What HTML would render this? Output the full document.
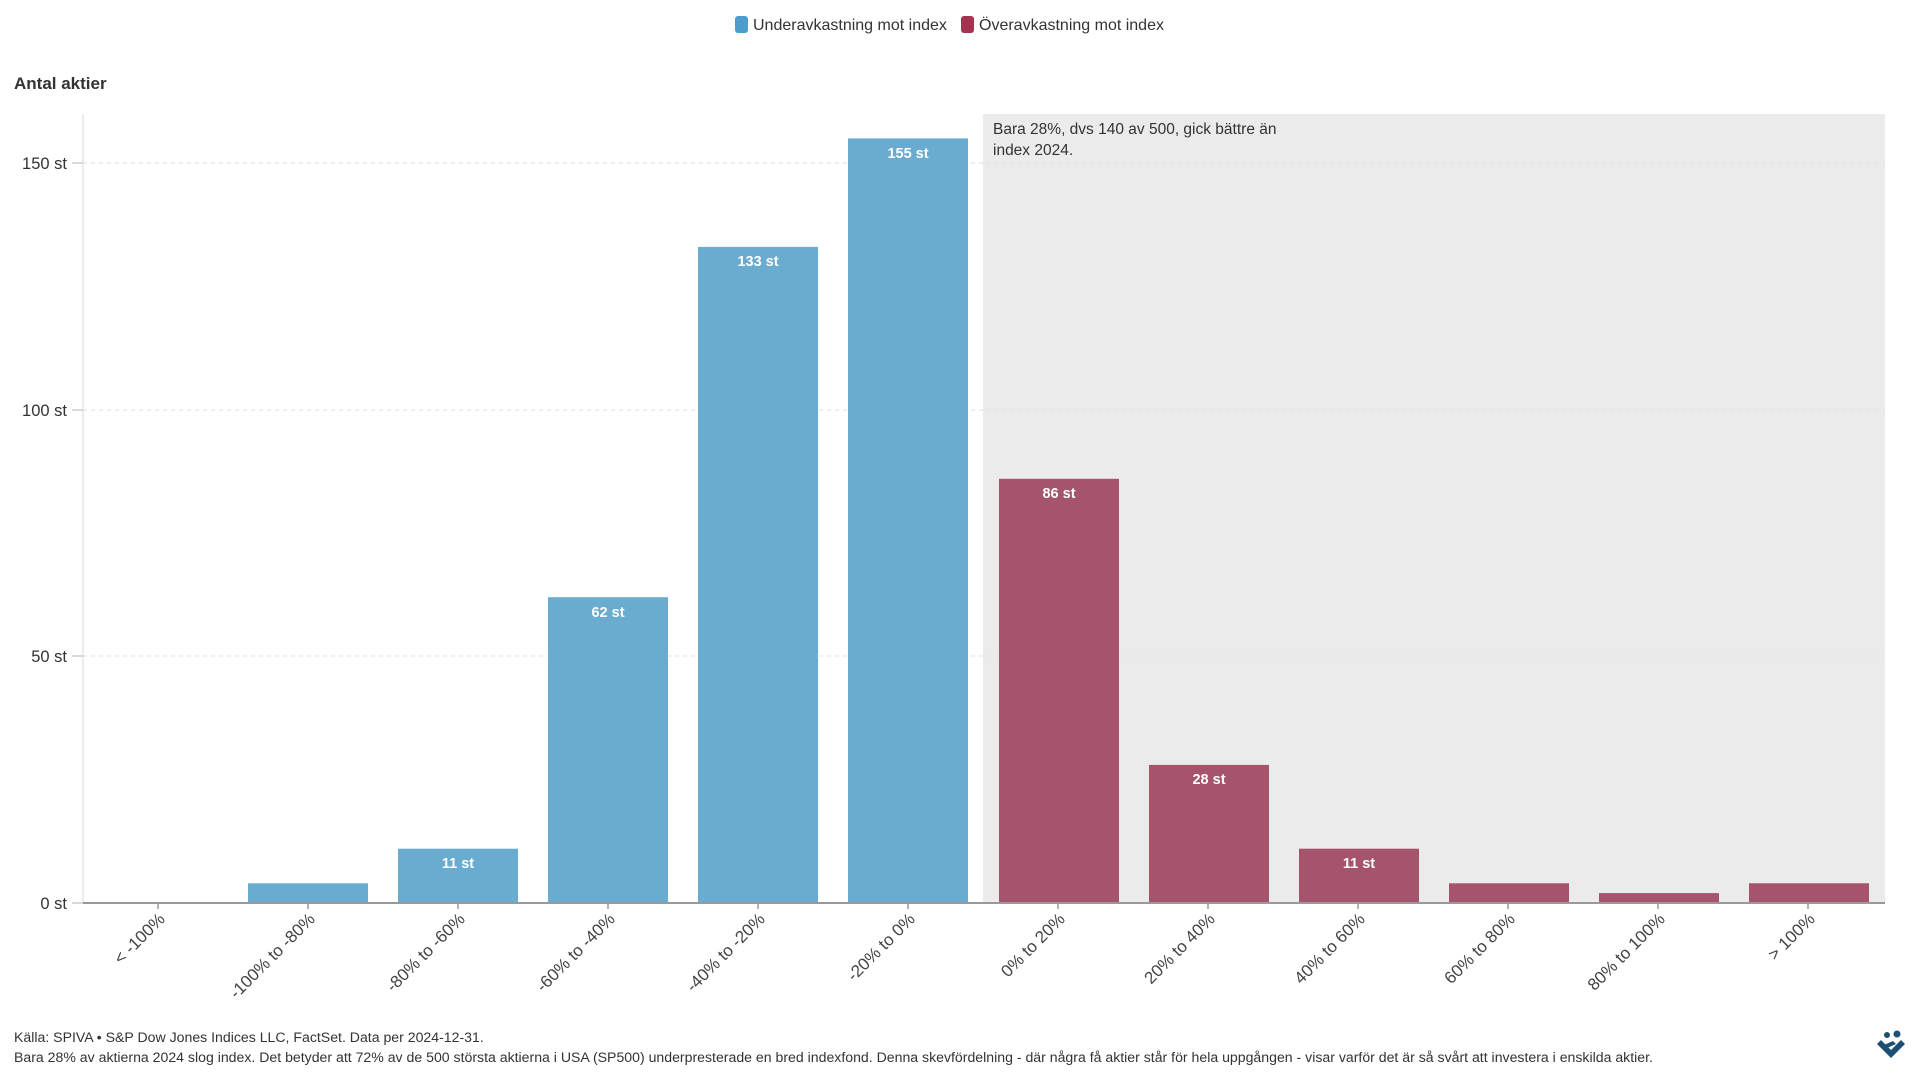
<!DOCTYPE html>
<html><head><meta charset="utf-8"><style>
html,body{margin:0;padding:0;background:#fff;}
svg{display:block;font-family:"Liberation Sans",sans-serif;}
</style></head><body>
<svg width="1920" height="1080" viewBox="0 0 1920 1080" xmlns="http://www.w3.org/2000/svg">
<rect x="735" y="16" width="13" height="17" rx="3" fill="#4d9ccb"/>
<text x="753" y="30" font-size="16" fill="#333">Underavkastning mot index</text>
<rect x="961" y="16" width="13" height="17" rx="3" fill="#a3334f"/>
<text x="979" y="30" font-size="16" fill="#333">Överavkastning mot index</text>
<text x="14" y="89" font-size="17" font-weight="bold" fill="#333">Antal aktier</text>
<rect x="983" y="114" width="902" height="789" fill="#ebebeb"/>
<text font-size="15.5" fill="#333"><tspan x="993" y="134">Bara 28%, dvs 140 av 500, gick bättre än</tspan><tspan x="993" y="155">index 2024.</tspan></text>
<line x1="83" y1="114" x2="83" y2="903" stroke="#e6e6e6" stroke-width="1.5"/>
<g stroke="#e3e3e3" stroke-dasharray="4,4" stroke-width="1.2">
<line x1="83" y1="163" x2="1885" y2="163"/>
<line x1="83" y1="410" x2="1885" y2="410"/>
<line x1="83" y1="656" x2="1885" y2="656"/>
</g>
<g font-size="16.5" fill="#333" text-anchor="end">
<text x="67" y="169">150 st</text>
<text x="67" y="416">100 st</text>
<text x="67" y="662">50 st</text>
<text x="67" y="909">0 st</text>
</g>
<g stroke="#ccc" stroke-width="1.5">
<line x1="72" y1="163" x2="83" y2="163"/><line x1="72" y1="410" x2="83" y2="410"/><line x1="72" y1="656" x2="83" y2="656"/><line x1="72" y1="903" x2="83" y2="903"/>
</g>
<g fill="#6aabd0">
<rect x="248" y="883.3" width="120" height="19.7"/>
<rect x="398" y="848.7" width="120" height="54.3"/>
<rect x="548" y="597.2" width="120" height="305.8"/>
<rect x="698" y="246.9" width="120" height="656.1"/>
<rect x="848" y="138.4" width="120" height="764.6"/>
</g>
<g fill="#a6546b">
<rect x="999" y="478.8" width="120" height="424.2"/>
<rect x="1149" y="764.9" width="120" height="138.1"/>
<rect x="1299" y="848.7" width="120" height="54.3"/>
<rect x="1449" y="883.3" width="120" height="19.7"/>
<rect x="1599" y="893.1" width="120" height="9.9"/>
<rect x="1749" y="883.3" width="120" height="19.7"/>
</g>
<g font-size="14.5" font-weight="bold" fill="#fff" text-anchor="middle">
<text x="458" y="868">11 st</text>
<text x="608" y="617">62 st</text>
<text x="758" y="266">133 st</text>
<text x="908" y="158">155 st</text>
<text x="1059" y="498">86 st</text>
<text x="1209" y="784">28 st</text>
<text x="1359" y="868">11 st</text>
</g>
<line x1="83" y1="903" x2="1885" y2="903" stroke="#999" stroke-width="2"/>
<g stroke="#999" stroke-width="1.5">
<line x1="158" y1="903" x2="158" y2="909"/><line x1="308" y1="903" x2="308" y2="909"/><line x1="458" y1="903" x2="458" y2="909"/><line x1="608" y1="903" x2="608" y2="909"/><line x1="758" y1="903" x2="758" y2="909"/><line x1="908" y1="903" x2="908" y2="909"/><line x1="1058" y1="903" x2="1058" y2="909"/><line x1="1208" y1="903" x2="1208" y2="909"/><line x1="1358" y1="903" x2="1358" y2="909"/><line x1="1508" y1="903" x2="1508" y2="909"/><line x1="1658" y1="903" x2="1658" y2="909"/><line x1="1808" y1="903" x2="1808" y2="909"/>
</g>
<g font-size="17" fill="#444" text-anchor="end">
<text transform="translate(166,920) rotate(-45)">&lt; -100%</text>
<text transform="translate(316,920) rotate(-45)">-100% to -80%</text>
<text transform="translate(466,920) rotate(-45)">-80% to -60%</text>
<text transform="translate(616,920) rotate(-45)">-60% to -40%</text>
<text transform="translate(766,920) rotate(-45)">-40% to -20%</text>
<text transform="translate(916,920) rotate(-45)">-20% to 0%</text>
<text transform="translate(1066,920) rotate(-45)">0% to 20%</text>
<text transform="translate(1216,920) rotate(-45)">20% to 40%</text>
<text transform="translate(1366,920) rotate(-45)">40% to 60%</text>
<text transform="translate(1516,920) rotate(-45)">60% to 80%</text>
<text transform="translate(1666,920) rotate(-45)">80% to 100%</text>
<text transform="translate(1816,920) rotate(-45)">&gt; 100%</text>
</g>
<g font-size="14.1" fill="#333">
<text x="14" y="1042">Källa: SPIVA • S&amp;P Dow Jones Indices LLC, FactSet. Data per 2024-12-31.</text>
<text x="14" y="1062">Bara 28% av aktierna 2024 slog index. Det betyder att 72% av de 500 största aktierna i USA (SP500) underpresterade en bred indexfond. Denna skevfördelning - där några få aktier står för hela uppgången - visar varför det är så svårt att investera i enskilda aktier.</text>
</g>
<g fill="#1d4e73">
<circle cx="1887" cy="1035" r="3"/><circle cx="1897" cy="1034" r="3.5"/>
<path d="M1877 1044 L1891 1058 L1905 1044 L1901 1040 L1891 1050 L1881 1040 Z"/>
<path d="M1884 1045 L1893 1041 L1896 1044 L1887 1048 Z"/>
</g>
</svg>
</body></html>
